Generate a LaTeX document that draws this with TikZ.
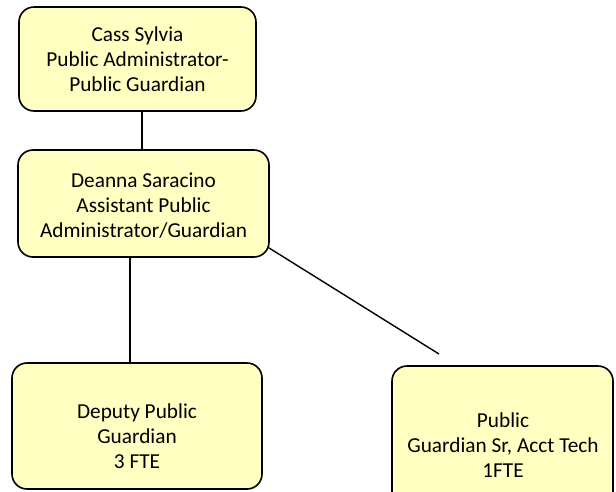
\documentclass[tikz,border=0pt]{standalone}
\usepackage{fontspec}
\setmainfont{Carlito}
\definecolor{boxfill}{RGB}{255,255,194}
\tikzset{
  unitbox/.style={draw=black, line width=1.6pt, fill=boxfill, rounded corners=15pt,
    rectangle, inner sep=0pt},
  boxtext/.style={align=center, font=\fontsize{21.3}{25}\selectfont, inner sep=0pt},
  link/.style={draw=black, line width=1.4pt}
}
\begin{document}
\begin{tikzpicture}[x=1pt, y=-1pt]
  \useasboundingbox (0,0) rectangle (616,491);
  \clip (0,0) rectangle (616,491);

  % boxes
  \node[unitbox, minimum width=237pt, minimum height=104pt] (pa) at (137.5,59) {};
  \node[unitbox, minimum width=251pt, minimum height=107pt] (apa) at (143.5,203.5) {};
  \node[unitbox, minimum width=250pt, minimum height=126pt] (dpg) at (137,426) {};
  \node[unitbox, minimum width=221pt, minimum height=160pt] (sr) at (502.5,446) {};

  % labels
  \node[boxtext] (pat) at (137.5,59) {Cass Sylvia\\Public Administrator-\\Public Guardian};
  \node[boxtext] (apat) at (143.5,206) {Deanna Saracino\\Assistant Public\\Administrator/Guardian};
  \node[boxtext] (dpgt) at (137,436) {Deputy Public\\Guardian\\3 FTE};
  \node[boxtext] (srt) at (503,445) {Public\\Guardian Sr, Acct Tech\\1FTE};

  % connectors
  \draw[link] (pa.south -| 142,0) -- (apa.north -| 142,0);
  \draw[link] (apa.south -| 130,0) -- (dpg.north -| 130,0);
  \coordinate (srend) at (439,354);
  \draw[link] (apa.south east) ++(-1,-10) -- (srend);
\end{tikzpicture}
\end{document}
